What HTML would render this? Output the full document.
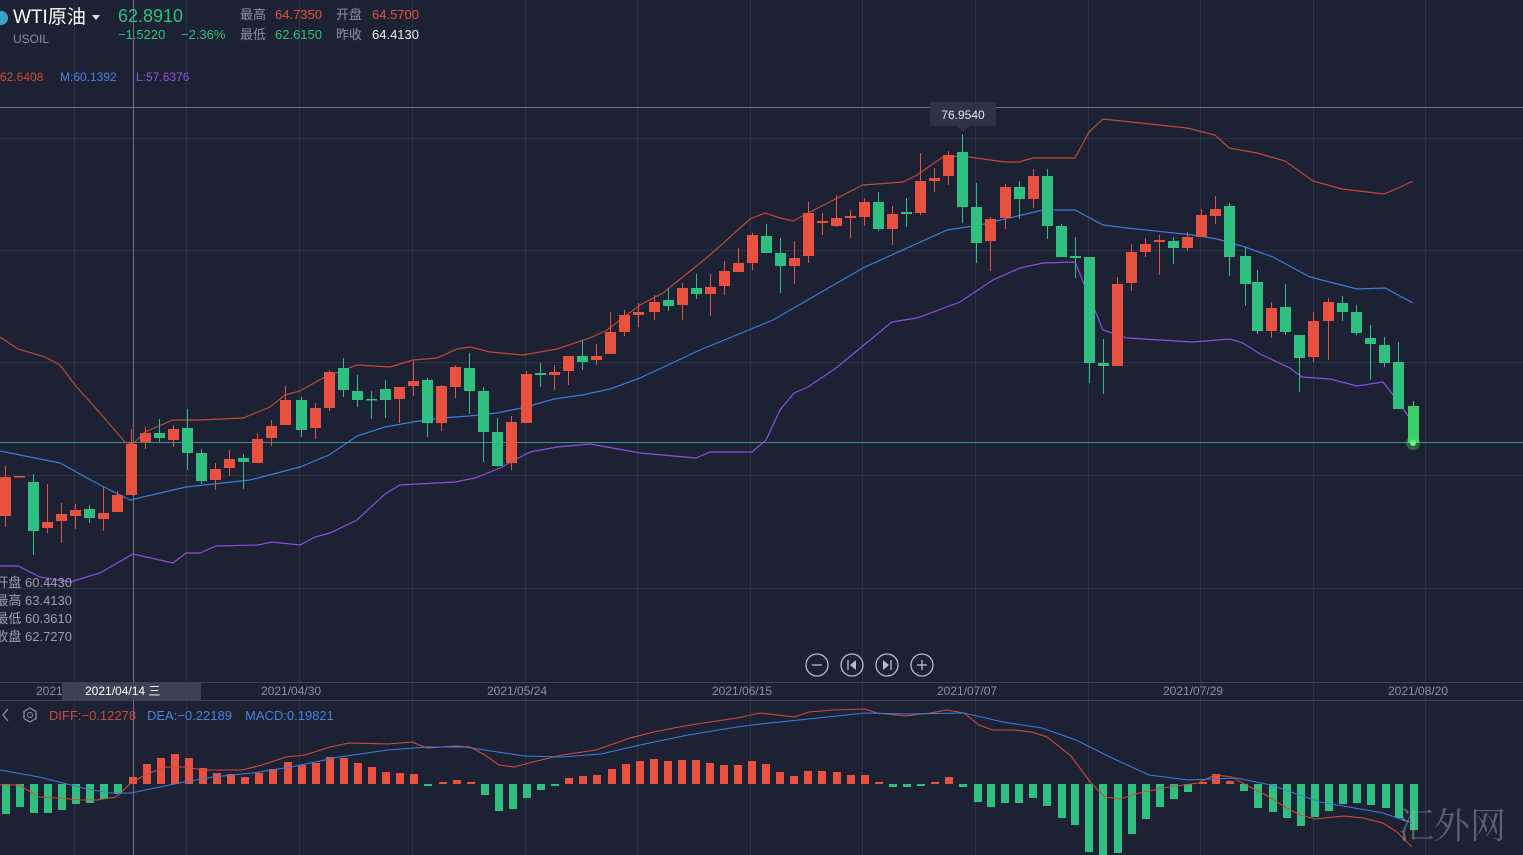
<!DOCTYPE html>
<html><head><meta charset="utf-8"><style>
html,body{margin:0;padding:0;background:#1c2233;overflow:hidden}
#w{position:relative;width:1523px;height:855px;background:#1c2233;font-family:"Liberation Sans","Noto Sans CJK SC",sans-serif;overflow:hidden}
.t{position:absolute;white-space:nowrap;line-height:1}
svg{position:absolute;left:0;top:0}
</style></head><body><div id="w">
<svg id="s" width="1523" height="855" xmlns="http://www.w3.org/2000/svg">
<g stroke="#2b3344" stroke-width="1">
<line x1="0" y1="138.5" x2="1523" y2="138.5"/><line x1="0" y1="250.5" x2="1523" y2="250.5"/>
<line x1="0" y1="362.5" x2="1523" y2="362.5"/><line x1="0" y1="475.5" x2="1523" y2="475.5"/>
<line x1="0" y1="588.5" x2="1523" y2="588.5"/>
</g>
<g id="vg" stroke="#2b3344" stroke-width="1"></g>
<line x1="0" y1="682.5" x2="1523" y2="682.5" stroke="#3a4356"/>
<line x1="0" y1="700.5" x2="1523" y2="700.5" stroke="#3a4356"/>
<line x1="0" y1="107.5" x2="1523" y2="107.5" stroke="#6b7385"/>
<line x1="133.5" y1="0" x2="133.5" y2="855" stroke="#6b7385"/>
<line x1="0" y1="442.5" x2="1523" y2="442.5" stroke="#3f8f86"/>
<g id="bands" fill="none" stroke-width="1.2"></g>
<g id="cd"></g>
<g id="macd"></g>
<circle cx="1413" cy="443" r="7" fill="#4ee36a" opacity="0.35"/>
<circle cx="1413" cy="443" r="3" fill="#6cf07c"/>
<rect x="930" y="102" width="66" height="24" rx="2" fill="#2c3446"/>
<path d="M957 126 L963 132 L969 126 Z" fill="#2c3446"/>
<text x="963" y="119" fill="#e8e8ec" font-size="12" text-anchor="middle" font-family="Liberation Sans">76.9540</text>
<g fill="none" stroke="#b8bcc6" stroke-width="1.3">
<circle cx="817" cy="665" r="11"/><circle cx="852" cy="665" r="11"/><circle cx="887" cy="665" r="11"/><circle cx="922" cy="665" r="11"/>
<line x1="812" y1="665" x2="822" y2="665"/><line x1="917" y1="665" x2="927" y2="665"/><line x1="922" y1="660" x2="922" y2="670"/>
<line x1="848" y1="660" x2="848" y2="670"/><line x1="891" y1="660" x2="891" y2="670"/>
</g>
<path d="M856 660 L850 665 L856 670 Z M883 660 L889 665 L883 670 Z" fill="#b8bcc6"/>
<circle cx="1" cy="18" r="7" fill="#3aa0c8"/>
<path d="M92 15 L100 15 L96 20 Z" fill="#ddd"/>
<path d="M8 709 L3 715 L8 721" stroke="#8a909c" fill="none" stroke-width="1.3"/>
<polygon points="30,708 36,711.5 36,718.5 30,722 24,718.5 24,711.5" fill="none" stroke="#8a909c" stroke-width="1.3"/>
<circle cx="30" cy="715" r="2.5" fill="none" stroke="#8a909c"/>
</svg>
<div class="t" style="left:13px;top:8px;font-size:19px;color:#fff">WTI原油</div>
<div class="t" style="left:118px;top:7px;font-size:18px;color:#2fbf80">62.8910</div>
<div class="t" style="left:13px;top:33px;font-size:12px;color:#8a909c">USOIL</div>
<div class="t" style="left:118px;top:28px;font-size:13px;color:#2fbf80">−1.5220</div>
<div class="t" style="left:181px;top:28px;font-size:13px;color:#2fbf80">−2.36%</div>
<div class="t" style="left:240px;top:8px;font-size:13px;color:#8a909c">最高</div>
<div class="t" style="left:275px;top:8px;font-size:13px;color:#e8503f">64.7350</div>
<div class="t" style="left:336px;top:8px;font-size:13px;color:#8a909c">开盘</div>
<div class="t" style="left:372px;top:8px;font-size:13px;color:#e8503f">64.5700</div>
<div class="t" style="left:240px;top:28px;font-size:13px;color:#8a909c">最低</div>
<div class="t" style="left:275px;top:28px;font-size:13px;color:#2fbf80">62.6150</div>
<div class="t" style="left:336px;top:28px;font-size:13px;color:#8a909c">昨收</div>
<div class="t" style="left:372px;top:28px;font-size:13px;color:#eee">64.4130</div>
<div class="t" style="left:0;top:71px;font-size:12px;color:#d24a3c">62.6408</div>
<div class="t" style="left:60px;top:71px;font-size:12px;color:#4a82e0">M:60.1392</div>
<div class="t" style="left:136px;top:71px;font-size:12px;color:#9055e0">L:57.6376</div>
<div class="t" style="right:1451px;top:576px;font-size:13px;color:#9aa0ac">开盘 60.4430</div>
<div class="t" style="right:1451px;top:594px;font-size:13px;color:#9aa0ac">最高 63.4130</div>
<div class="t" style="right:1451px;top:612px;font-size:13px;color:#9aa0ac">最低 60.3610</div>
<div class="t" style="right:1451px;top:630px;font-size:13px;color:#9aa0ac">收盘 62.7270</div>
<div class="t" style="left:36px;top:685px;font-size:12px;color:#8a909c">2021/0</div>
<div class="t" style="left:62px;top:683px;width:139px;height:17px;background:#3a4254"></div>
<div class="t" style="left:85px;top:685px;font-size:12px;color:#fff">2021/04/14 三</div>
<div class="t" style="left:261px;top:685px;font-size:12px;color:#8a909c">2021/04/30</div>
<div class="t" style="left:487px;top:685px;font-size:12px;color:#8a909c">2021/05/24</div>
<div class="t" style="left:712px;top:685px;font-size:12px;color:#8a909c">2021/06/15</div>
<div class="t" style="left:937px;top:685px;font-size:12px;color:#8a909c">2021/07/07</div>
<div class="t" style="left:1163px;top:685px;font-size:12px;color:#8a909c">2021/07/29</div>
<div class="t" style="left:1388px;top:685px;font-size:12px;color:#8a909c">2021/08/20</div>
<div class="t" style="left:49px;top:709px;font-size:13px;color:#d24a3c">DIFF:−0.12278</div>
<div class="t" style="left:147px;top:709px;font-size:13px;color:#4a82e0">DEA:−0.22189</div>
<div class="t" style="left:245px;top:709px;font-size:13px;color:#4a82e0">MACD:0.19821</div>
<div class="t" style="left:1398px;top:806px;font-size:36px;color:rgba(170,175,185,0.45);font-family:'Noto Serif CJK SC',serif">汇外网</div>
</div>
<script>
var NS="http://www.w3.org/2000/svg";
function el(p,n,a){var e=document.createElementNS(NS,n);for(var k in a)e.setAttribute(k,a[k]);p.appendChild(e);return e;}
var vg=document.getElementById('vg');
[74,186,299,412,525,637,750,862,975,1088,1200,1313,1425].forEach(function(x){el(vg,'line',{x1:x+.5,y1:0,x2:x+.5,y2:855});});
var B=document.getElementById('bands');
function pl(c,pts){el(B,'polyline',{points:pts,stroke:c});}
pl('#c0483a',"0,337 18,349 45,357 60,365 75,385 100,413 125,442 133,444 145,432 173,420 200,420 243,418 270,407 285,395 300,391 323,378 357,365 390,367 413,360 437,358 457,349 470,347 490,352 523,355 557,349 590,338 607,330 640,305 663,293 710,255 750,219 765,213 780,218 793,221 810,212 863,185 903,182 917,175 943,157 962,156 990,160 1005,162 1019,162 1033,158 1075,158 1089,132 1103,119 1131,122 1159,125 1187,128 1215,135 1229,148 1257,153 1285,161 1313,181 1342,189 1384,194 1398,188 1413,181");
pl('#3d7bd9',"0,451 60,463 100,485 130,500 186,487 250,480 300,467 329,455 357,436 385,427 413,422 441,418 469,416 497,413 526,407 554,399 582,395 610,389 640,378 700,350 773,320 863,268 947,230 980,225 1043,210 1075,210 1103,225 1127,228 1193,235 1217,239 1245,247 1273,257 1310,277 1357,289 1385,288 1413,303");
pl('#8a4fe0',"0,566 18,566 40,577 70,582 100,573 133,554 173,563 186,553 200,553 216,546 258,545 272,542 300,545 315,537 330,533 357,520 385,494 400,485 455,482 475,478 500,468 530,452 557,447 590,444 640,453 696,458 710,452 752,452 766,440 780,410 794,393 808,387 836,368 864,345 892,322 917,318 960,302 993,280 1020,268 1043,263 1075,262 1103,330 1127,338 1193,342 1230,339 1243,343 1260,354 1290,368 1302,377 1330,379 1357,386 1383,382 1397,400 1413,423");
var C=[[5,466,477,516,527,'r'],[19,476,476,477,477,'r'],[33,474,482,531,555,'g'],[47,484,522,528,533,'r'],[61,503,514,521,543,'r'],[75,504,510,516,529,'r'],[89,505,509,518,523,'g'],[103,487,513,519,531,'r'],[117,491,495,512,512,'r'],[131,429,444,495,495,'r'],[145,427,433,442,449,'r'],[159,419,433,438,442,'g'],[173,425,429,440,447,'r'],[187,409,428,453,470,'g'],[201,449,453,481,484,'g'],[215,463,469,480,490,'r'],[229,450,459,468,476,'r'],[243,454,458,462,489,'g'],[257,433,439,463,463,'r'],[271,420,426,438,446,'r'],[285,386,400,425,425,'r'],[301,397,400,430,437,'g'],[315,403,408,428,439,'r'],[329,370,372,408,411,'r'],[343,358,368,390,397,'g'],[357,375,391,400,407,'g'],[371,391,399,400,419,'g'],[385,380,389,400,418,'g'],[399,387,387,399,423,'r'],[413,361,381,386,396,'r'],[427,378,380,423,437,'g'],[441,385,386,423,431,'r'],[455,365,367,387,398,'r'],[469,353,368,391,414,'g'],[483,387,391,432,462,'g'],[497,418,432,466,467,'g'],[511,416,422,463,470,'r'],[526,371,374,423,423,'r'],[540,363,373,375,387,'g'],[554,365,372,375,390,'r'],[568,356,356,371,385,'r'],[582,340,356,362,370,'g'],[596,344,356,360,365,'r'],[610,312,332,354,354,'r'],[624,310,315,332,336,'r'],[638,303,312,315,327,'r'],[654,295,302,312,320,'r'],[668,288,300,306,311,'g'],[682,283,288,305,320,'r'],[696,274,288,294,299,'g'],[710,274,287,294,316,'r'],[724,261,271,286,295,'r'],[738,248,263,272,272,'r'],[752,233,235,263,270,'r'],[766,224,236,253,253,'g'],[780,238,253,266,293,'g'],[794,241,258,266,284,'r'],[808,202,213,256,263,'r'],[822,213,221,223,235,'r'],[836,195,218,226,227,'r'],[850,210,216,218,238,'r'],[864,198,202,217,226,'r'],[878,192,202,229,231,'g'],[892,206,214,229,245,'r'],[906,198,212,214,227,'g'],[920,153,181,213,215,'r'],[934,168,178,181,192,'r'],[948,151,155,176,185,'r'],[962,134,152,207,223,'g'],[976,183,207,243,263,'g'],[990,217,219,241,271,'r'],[1005,184,187,218,229,'r'],[1019,181,187,199,219,'g'],[1033,169,176,199,208,'r'],[1047,169,176,226,239,'g'],[1061,224,226,257,257,'g'],[1075,237,256,258,278,'g'],[1089,257,257,363,383,'g'],[1103,339,363,366,394,'g'],[1117,277,284,366,366,'r'],[1131,244,252,283,291,'r'],[1145,238,244,252,257,'r'],[1159,235,240,242,275,'r'],[1173,237,241,248,264,'g'],[1187,232,237,248,251,'r'],[1201,209,215,237,237,'r'],[1215,196,209,216,224,'r'],[1229,203,206,257,276,'g'],[1245,247,256,284,306,'g'],[1257,270,282,331,334,'g'],[1271,302,308,331,338,'r'],[1285,284,307,332,335,'g'],[1299,335,335,358,392,'g'],[1313,312,321,357,362,'r'],[1328,298,302,321,360,'r'],[1342,296,303,312,321,'g'],[1356,305,312,333,335,'g'],[1370,325,338,344,380,'g'],[1384,337,345,363,367,'g'],[1398,342,362,409,409,'g'],[1413,401,406,443,446,'G']];
var G=document.getElementById('cd');
C.forEach(function(c){var col=c[5]=='r'?'#e8503f':(c[5]=='G'?'#3cd06a':'#2fbf80');
el(G,'line',{x1:c[0]+.5,y1:c[1],x2:c[0]+.5,y2:c[4],stroke:col,'stroke-width':1});
var h=Math.max(c[3]-c[2],1.5);el(G,'rect',{x:c[0]-5,y:c[2],width:11,height:h,fill:col});});
var M=document.getElementById('macd');
var H=[[6,814],[20,807],[34,813],[48,813],[62,810],[76,804],[90,803],[104,799],[118,794],[133,777],[147,764],[161,758],[175,754],[189,758],[203,768],[217,773],[231,774],[245,777],[259,773],[273,769],[288,762],[302,765],[316,763],[330,757],[344,758],[358,763],[372,767],[386,772],[400,773],[414,774],[428,786],[443,782],[457,780],[471,782],[485,795],[499,811],[513,809],[527,798],[541,790],[555,786],[569,778],[583,776],[597,775],[612,769],[626,764],[640,761],[654,759],[668,761],[682,760],[696,760],[710,763],[724,765],[738,765],[752,761],[766,764],[780,772],[794,776],[808,771],[822,771],[837,772],[851,775],[865,775],[879,782],[893,787],[907,787],[921,785],[935,782],[949,777],[963,787],[978,802],[991,807],[1005,803],[1019,803],[1033,798],[1047,806],[1062,818],[1075,825],[1089,852],[1103,855],[1118,853],[1132,834],[1146,819],[1160,807],[1174,799],[1188,792],[1203,782],[1216,774],[1230,781],[1244,791],[1258,808],[1273,812],[1287,818],[1301,826],[1315,817],[1329,811],[1343,804],[1357,803],[1371,805],[1386,808],[1399,818],[1414,830]];
H.forEach(function(b){var z=784;var up=b[1]<z;var y=up?b[1]:z,h=Math.max(Math.abs(b[1]-z),2);
el(M,'rect',{x:b[0]-4,y:y,width:8,height:h,fill:up?'#e8503f':'#2fbf80'});});
el(M,'polyline',{fill:'none',stroke:'#d24a3c','stroke-width':1.1,points:"0,785 19,785 39,797 58,798 82,800 97,800 116,797 131,783 145,775 165,767 184,767 204,770 242,770 262,765 286,757 305,755 330,747 349,743 388,744 412,742 427,748 456,746 470,747 485,755 499,765 514,767 533,762 562,755 596,750 630,738 654,732 679,727 703,723 737,718 760,713 794,717 809,712 833,710 865,709 877,713 906,716 930,713 947,710 964,713 979,725 993,730 1013,730 1032,732 1047,737 1071,756 1091,783 1105,797 1120,799 1139,793 1169,787 1198,783 1215,775 1232,777 1246,785 1266,795 1285,807 1300,815 1315,819 1344,816 1363,818 1383,823 1397,832 1412,847"});
el(M,'polyline',{fill:'none',stroke:'#3d7bd9','stroke-width':1.1,points:"0,770 39,777 63,783 87,789 111,793 131,793 155,788 184,782 213,777 252,773 291,767 339,757 388,750 427,747 465,747 524,756 562,757 601,754 640,745 688,735 737,727 760,724 799,720 865,713 906,714 964,713 1003,722 1042,728 1076,740 1110,757 1149,775 1188,780 1237,778 1271,785 1320,802 1383,813 1412,823"});
</script>
</body></html>
